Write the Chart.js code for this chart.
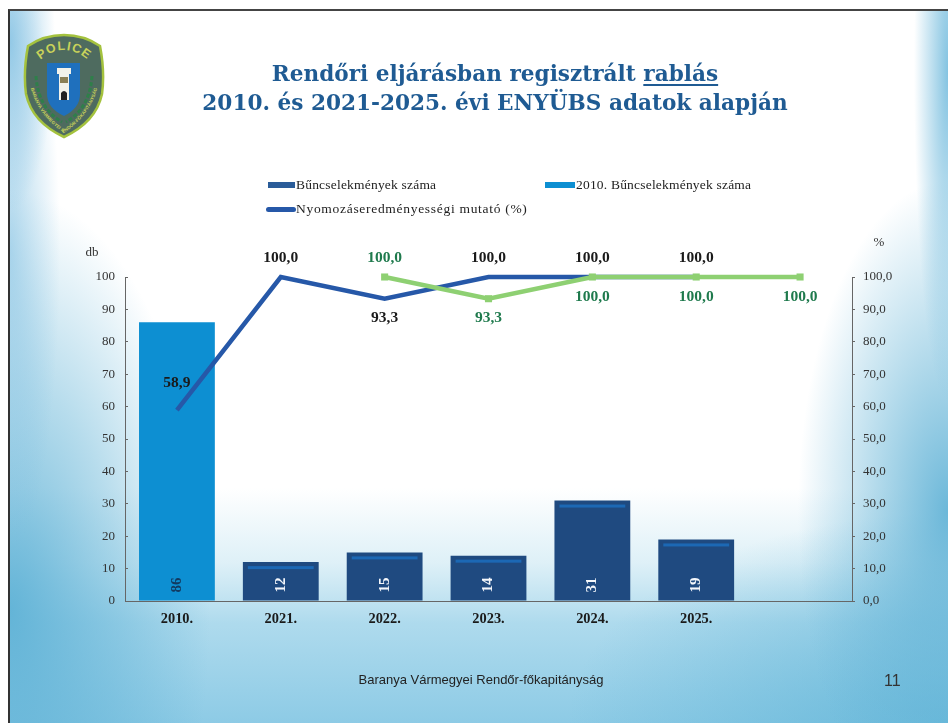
<!DOCTYPE html>
<html lang="hu">
<head>
<meta charset="utf-8">
<title>Rendőri eljárásban regisztrált rablás</title>
<script src="https://cdn.jsdelivr.net/npm/chart.js@4/dist/chart.umd.min.js"></script>
<style>
html,body{margin:0;padding:0;background:#fff;width:948px;height:723px;overflow:hidden}
#slide{position:absolute;left:8px;top:9px;width:940px;height:714px;box-sizing:border-box;border-left:2px solid #333;border-top:2px solid #444;
background:
 radial-gradient(ellipse 45px 170px at 0px 30px,rgba(125,190,225,.8),rgba(125,190,225,0) 100%),
 radial-gradient(ellipse 50px 300px at 0px 240px,rgba(125,190,225,.6),rgba(125,190,225,0) 100%),
 radial-gradient(ellipse 34px 330px at 100% 60px,rgba(110,185,220,.85),rgba(110,185,220,0) 100%),
 radial-gradient(ellipse 150px 330px at 100% 500px,rgba(100,180,215,.95),rgba(100,180,215,0) 100%),
 radial-gradient(ellipse 200px 420px at 0px 600px,rgba(95,178,214,.95),rgba(95,178,214,.45) 55%,rgba(95,178,214,0) 100%),
 radial-gradient(ellipse 380px 210px at 100% 100%,rgba(95,180,215,.75),rgba(95,180,215,0) 100%),
 linear-gradient(to top,rgba(135,200,228,.95) 0,rgba(160,212,234,.85) 100px,rgba(195,228,241,.55) 160px,rgba(255,255,255,0) 235px),
 #fff}
#chart{position:absolute;left:0;top:0}
#title{position:absolute;left:0;width:990px;top:59px;text-align:center;font:bold 21.6px/29px "DejaVu Serif",serif;color:#1f5b93;white-space:nowrap}
#title u{text-decoration-thickness:1.5px;text-underline-offset:3px}
#footer{position:absolute;left:281px;width:400px;top:672px;text-align:center;font:13px "Liberation Sans",sans-serif;color:#222}
#page{position:absolute;left:884px;top:672px;font:16px "Liberation Sans",sans-serif;color:#333}
#badge{position:absolute;left:22px;top:32px}
</style>
</head>
<body>
<div id="slide"></div>
<svg id="badge" width="84" height="108" viewBox="0 0 84 108">
  <defs><path id="arcTop" d="M12 34 Q42 2 72 34"/><path id="arcBot" d="M7 38 Q6 76 42 101 Q78 76 77 38"/></defs>
  <path d="M42 3 Q62 3 78 14 Q83 40 80 62 Q74 90 42 105 Q10 90 4 62 Q1 40 6 14 Q22 3 42 3Z" fill="#4e6b5f" stroke="#a4c23e" stroke-width="2.5"/>
  <text font-family="Liberation Sans" font-size="12.5" font-weight="bold" fill="#c8d25a" letter-spacing="1"><textPath href="#arcTop" startOffset="50%" text-anchor="middle">POLICE</textPath></text>
  <text font-family="Liberation Sans" font-size="4.6" font-weight="bold" fill="#c8d25a"><textPath href="#arcBot" startOffset="50%" text-anchor="middle">BARANYA VÁRMEGYEI RENDŐR-FŐKAPITÁNYSÁG</textPath></text>
  <path d="M25 31 H58 V62 Q58 76 42 84 Q25 76 25 62Z" fill="#1f70bd"/>
  <path d="M14 44 Q16 76 40 90 M70 44 Q68 76 44 90" fill="none" stroke="#2f7f4a" stroke-width="3" stroke-dasharray="4 2"/>
  <path d="M35 36 H49 V42 H47 V68 H37 V42 H35Z" fill="#f2f2ea"/>
  <path d="M39 68 V61 Q42 57 45 61 V68Z" fill="#222"/>
  <rect x="38" y="45" width="8" height="6" fill="#8a7f55"/>
</svg>
<canvas id="chart" width="948" height="723"></canvas>
<div id="title">Rendőri eljárásban regisztrált <u>rablás</u><br>2010. és 2021-2025. évi ENYÜBS adatok alapján</div>
<div id="footer">Baranya Vármegyei Rendőr-főkapitányság</div>
<div id="page">11</div>
<script>
const categories = ['2010.', '2021.', '2022.', '2023.', '2024.', '2025.', ''];
const crimes2010 = [86, null, null, null, null, null, null];
const crimes = [null, 12, 15, 14, 31, 19, null];
const clearance = [58.9, 100, 93.3, 100, 100, 100, null];
const clearanceYtd = [null, null, 100, 93.3, 100, 100, 100];
const clearancePlace = ['inside', 'above', 'below', 'above', 'above', 'above', null];
const clearanceYtdPlace = [null, null, 'above', 'below', 'below', 'below', 'below'];
const seriesNames = ['Bűncselekmények száma', '2010. Bűncselekmények száma', 'Nyomozáseredményességi mutató (%)'];
const leftUnit = 'db';
const rightUnit = '%';

const serif = '"Liberation Serif", serif';
const darkBar = '#1f4a80', lightBar = '#0d8fd2', blueLine = '#2658a8', greenLine = '#8ed072';
const fmt = v => v.toFixed(1).replace('.', ',');

const extras = {
  id: 'extras',
  afterDatasetsDraw(chart) {
    const c = chart.ctx;
    const m0 = chart.getDatasetMeta(0), m1 = chart.getDatasetMeta(1), m2 = chart.getDatasetMeta(2), m3 = chart.getDatasetMeta(3);
    const base = chart.scales.y.bottom;
    c.save();
    // highlight strip + vertical value on the bars
    crimes.forEach((v, i) => {
      if (v === null) return;
      const e = m0.data[i];
      c.fillStyle = '#1c68b4';
      c.fillRect(e.x - e.width / 2 + 5, e.y + 4, e.width - 10, 3);
    });
    c.font = 'bold 15px ' + serif;
    c.textAlign = 'center'; c.textBaseline = 'middle';
    const vertical = (e, v, col) => {
      c.save(); c.translate(e.x, base - 16); c.rotate(-Math.PI / 2);
      c.fillStyle = col; c.fillText(String(v), 0, 0); c.restore();
    };
    crimes.forEach((v, i) => { if (v !== null) vertical(m0.data[i], v, '#f4f7fb'); });
    crimes2010.forEach((v, i) => { if (v !== null) vertical(m1.data[i], v, '#123a60'); });
    // line value labels
    c.font = 'bold 15.5px ' + serif;
    const put = (meta, vals, places, col) => vals.forEach((v, i) => {
      if (v === null) return;
      const p = meta.data[i], pl = places[i];
      const dy = pl === 'above' ? -19 : pl === 'below' ? (v < 100 ? 19 : 20) : -27;
      c.fillStyle = col; c.fillText(fmt(v), p.x, p.y + dy);
    });
    put(m2, clearance, clearancePlace, '#1a1a1a');
    put(m3, clearanceYtd, clearanceYtdPlace, '#1f7a4d');
    // axis units
    c.font = '13px ' + serif; c.fillStyle = '#333';
    c.fillText(leftUnit, chart.scales.y.right - 33, chart.scales.y.top - 24);
    c.fillText(rightUnit, chart.scales.y1.left + 27, chart.scales.y1.top - 34);
    // legend
    c.font = '13.5px ' + serif; c.textAlign = 'left';
    c.fillStyle = '#2a5c99'; c.fillRect(268, 182, 27, 6);
    c.fillStyle = lightBar; c.fillRect(545, 182, 30, 6);
    c.fillStyle = blueLine; c.beginPath(); c.roundRect(266, 207, 30, 5, 2.5); c.fill();
    c.fillStyle = '#222';
    c.letterSpacing = '0.2px';
    c.fillText(seriesNames[0], 296, 185.5);
    c.fillText(seriesNames[1], 576, 185.5);
    c.letterSpacing = '0.7px';
    c.fillText(seriesNames[2], 296, 209.5);
    c.letterSpacing = '0px';
    c.restore();
  }
};

new Chart(document.getElementById('chart'), {
  data: {
    labels: categories,
    datasets: [
      { type: 'bar', label: seriesNames[0], data: crimes, backgroundColor: darkBar, yAxisID: 'y', order: 3, barPercentage: 0.73, categoryPercentage: 1 },
      { type: 'bar', label: seriesNames[1], data: crimes2010, backgroundColor: lightBar, yAxisID: 'y', order: 3, barPercentage: 0.73, categoryPercentage: 1 },
      { type: 'line', label: seriesNames[2], data: clearance, borderColor: blueLine, borderWidth: 4.5, pointRadius: 0, yAxisID: 'y1', order: 2, tension: 0, clip: false },
      { type: 'line', label: 'Nyomozáseredményességi mutató, időszak', data: clearanceYtd, borderColor: greenLine, backgroundColor: greenLine, borderWidth: 4.5, pointStyle: 'rect', pointRadius: 5, pointBorderWidth: 0, yAxisID: 'y1', order: 1, tension: 0, clip: false }
    ]
  },
  options: {
    responsive: false,
    animation: false,
    layout: { padding: { left: 0, right: 0, top: 277, bottom: 0 } },
    plugins: { legend: { display: false }, title: { display: false }, tooltip: { enabled: false } },
    scales: {
      x: {
        stacked: true,
        afterFit(s) { s.height = 122; },
        grid: { display: false, drawTicks: false },
        border: { color: '#666', width: 1, dash: [2, 1] },
        ticks: { padding: 10, maxRotation: 0, color: '#1a1a1a', font: { family: serif, size: 14.4, weight: 'bold' } }
      },
      y: {
        stacked: true,
        min: 0, max: 100,
        afterFit(s) { s.width = 125; },
        grid: { drawOnChartArea: false, drawTicks: true, tickLength: -3, color: '#666' },
        border: { color: '#666', width: 1, dash: [2, 1] },
        ticks: { stepSize: 10, padding: 13, color: '#333', font: { family: serif, size: 13 } }
      },
      y1: {
        position: 'right',
        min: 0, max: 100,
        afterFit(s) { s.width = 96; },
        grid: { drawOnChartArea: false, drawTicks: true, tickLength: 3, color: '#666' },
        border: { color: '#666', width: 1, dash: [2, 1] },
        ticks: { stepSize: 10, padding: 8, color: '#333', font: { family: serif, size: 13 }, callback: v => fmt(v) }
      }
    }
  },
  plugins: [extras]
});
</script>
</body>
</html>
